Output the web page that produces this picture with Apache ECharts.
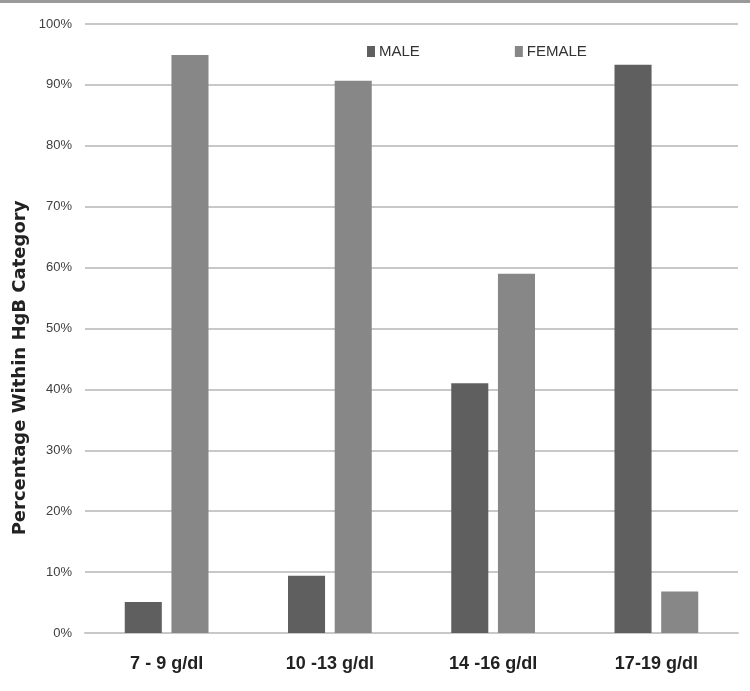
<!DOCTYPE html>
<html>
<head>
<meta charset="utf-8">
<script src="https://cdn.jsdelivr.net/npm/echarts@6/dist/echarts.min.js"></script>
<style>
  html, body { margin: 0; padding: 0; background: #fff; }
  #chart { width: 750px; height: 691px; }
</style>
</head>
<body>
<div id="chart"></div>
<script>
// 数据
const categories = ['7 - 9 g/dl', '10 -13 g/dl', '14 -16 g/dl', '17-19 g/dl'];
const maleValues = [5.1, 9.4, 41.0, 93.3];
const femaleValues = [94.9, 90.7, 59.0, 6.8];
const yTicks = [0, 10, 20, 30, 40, 50, 60, 70, 80, 90, 100];

const narrow = '"Liberation Sans Narrow", "Liberation Sans", Arial, sans-serif';

const chart = echarts.init(document.getElementById('chart'));

const option = {
    animation: false,
    backgroundColor: '#fff',
    grid: { left: 85, right: 12, top: 24, bottom: 58 },
    legend: {
        left: 362,
        top: 39,
        itemWidth: 8,
        itemHeight: 11,
        itemGap: 95,
        icon: 'rect',
        textStyle: { fontFamily: narrow, fontSize: 15, color: '#333', padding: [0, 0, 0, -1] },
        data: ['MALE', 'FEMALE']
    },
    xAxis: {
        type: 'category',
        data: categories,
        axisTick: { show: false },
        axisLine: { lineStyle: { color: '#c8c8c8', width: 2 } },
        axisLabel: {
            margin: 22,
            fontFamily: narrow,
            fontWeight: 'bold',
            fontSize: 18,
            color: '#222'
        }
    },
    yAxis: {
        type: 'value',
        min: 0,
        max: 100,
        interval: 10,
        axisLine: { show: false },
        axisTick: { show: false },
        splitLine: { lineStyle: { color: '#c8c8c8', width: 2 } },
        axisLabel: {
            margin: 13,
            fontFamily: narrow,
            fontSize: 13,
            color: '#404040',
            formatter: v => (yTicks.includes(v) ? v + '%' : '')
        }
    },
    graphic: [
        {
            type: 'rect',
            shape: { x: 0, y: 0, width: 750, height: 3 },
            style: { fill: '#9a9a9a' }
        },
        {
            type: 'text',
            x: 20,
            y: 368,
            rotation: Math.PI / 2,
            style: {
                text: 'Percentage Within HgB Category',
                fontFamily: '"DejaVu Sans", sans-serif',
                fontWeight: 'bold',
                fontSize: 18,
                fill: '#222',
                align: 'center',
                verticalAlign: 'middle'
            }
        }
    ],
    series: [
        {
            name: 'MALE',
            type: 'bar',
            data: maleValues,
            barWidth: '22.7%',
            barGap: '26%',
            itemStyle: { color: '#5f5f5f' }
        },
        {
            name: 'FEMALE',
            type: 'bar',
            data: femaleValues,
            barWidth: '22.7%',
            itemStyle: { color: '#878787' }
        }
    ]
};

chart.setOption(option);
</script>
</body>
</html>
